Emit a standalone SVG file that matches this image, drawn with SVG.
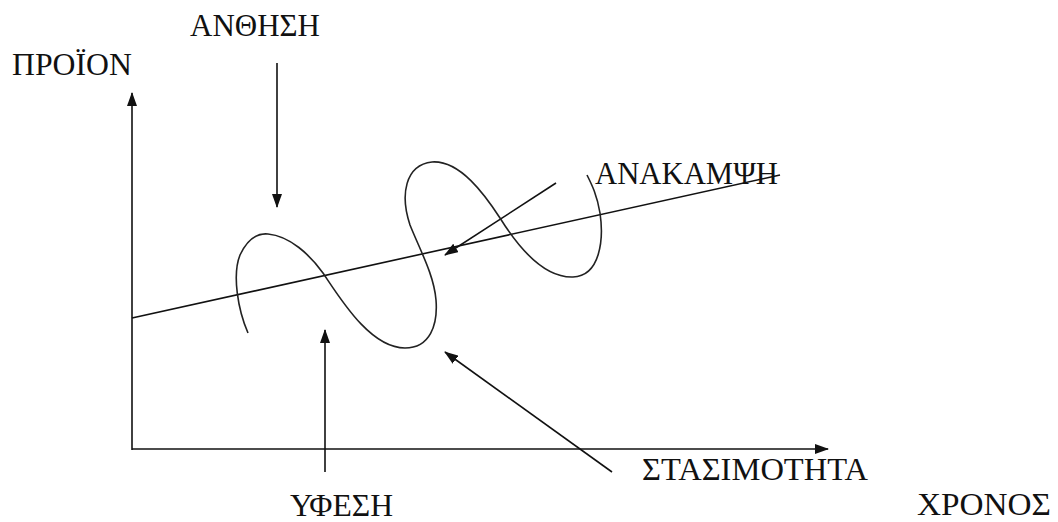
<svg xmlns="http://www.w3.org/2000/svg" width="1058" height="522" viewBox="0 0 1058 522">
<defs>
<style>
.ln{stroke:#111;stroke-width:1.6;fill:none}
.cv{stroke:#222;stroke-width:1.6;fill:none}
.t{font-family:"Liberation Serif","DejaVu Serif",serif;font-size:31px;fill:#111}
</style>
<marker id="ah" viewBox="0 0 14 10" refX="13" refY="5" markerWidth="14" markerHeight="10" markerUnits="userSpaceOnUse" orient="auto">
<path d="M0,0 L14,5 L0,10 Z" fill="#111"/>
</marker>
</defs>
<rect width="1058" height="522" fill="#fff"/>
<g id="connectors">
<line class="ln" x1="132" y1="450" x2="132" y2="93" marker-end="url(#ah)"/>
<line class="ln" x1="132" y1="449" x2="828" y2="449" marker-end="url(#ah)"/>
<line class="ln" x1="132" y1="318" x2="780" y2="175"/>
<line class="ln" x1="277" y1="63" x2="277" y2="207" marker-end="url(#ah)"/>
<line class="ln" x1="325" y1="472" x2="325" y2="330" marker-end="url(#ah)"/>
<line class="ln" x1="612" y1="472" x2="445" y2="352" marker-end="url(#ah)"/>
<line class="ln" x1="556" y1="183" x2="445" y2="255" marker-end="url(#ah)"/>
</g>
<g id="curve">
<path class="cv" d="M248,333 C238,310 232,275 240,255 C248,238 258,233 268,234 C290,236 310,255 323,273 C340,298 370,348 405,348 C430,348 438,325 436,300 C434,275 420,250 410,225 C400,195 405,165 432,162 C460,160 485,195 500,218 C520,250 545,278 573,277 C600,276 604,240 600,213 C597,195 592,185 587,175"/>
</g>
<g id="label-proion"><text class="t" x="12" y="75" textLength="120" lengthAdjust="spacingAndGlyphs">ΠΡΟΪΟΝ</text></g>
<g id="label-anthisi"><text class="t" x="190" y="36" textLength="130" lengthAdjust="spacingAndGlyphs">ΑΝΘΗΣΗ</text></g>
<g id="label-anakampsi"><text class="t" x="595" y="184" textLength="183" lengthAdjust="spacingAndGlyphs">ΑΝΑΚΑΜΨΗ</text></g>
<g id="label-stasimotita"><text class="t" x="642" y="480" textLength="226" lengthAdjust="spacingAndGlyphs">ΣΤΑΣΙΜΟΤΗΤΑ</text></g>
<g id="label-yfesi"><text class="t" x="290" y="516" textLength="103" lengthAdjust="spacingAndGlyphs">ΥΦΕΣΗ</text></g>
<g id="label-chronos"><text class="t" x="917" y="515" font-size="30" textLength="134" lengthAdjust="spacingAndGlyphs">ΧΡΟΝΟΣ</text></g>
</svg>
